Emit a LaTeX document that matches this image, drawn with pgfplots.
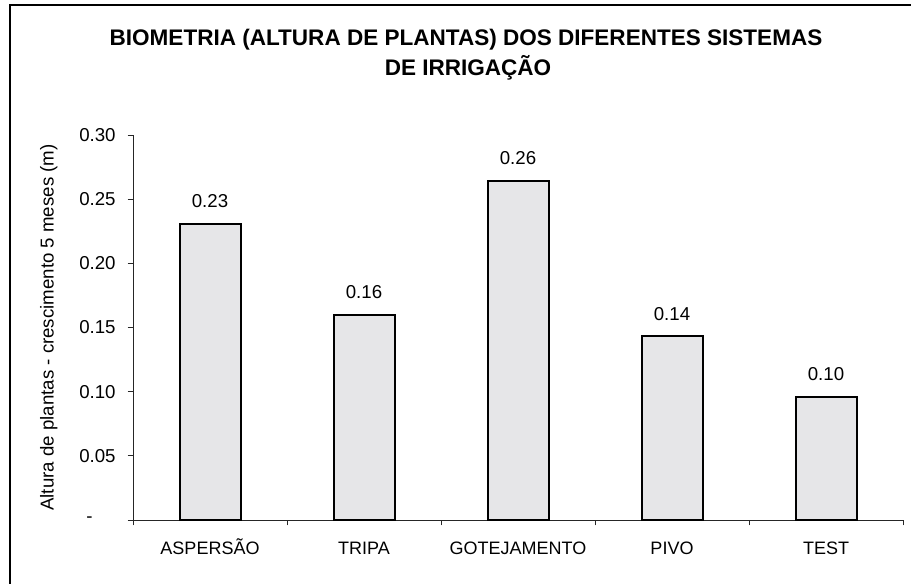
\documentclass[border=0pt]{standalone}
\usepackage{pgfplots}
\pgfplotsset{compat=1.18}
\usepackage{fontspec}
\setmainfont{Liberation Sans}
\definecolor{barfill}{RGB}{230,230,232}
\pgfplotstableread{
x y label
0 0.231 0.23
1 0.160 0.16
2 0.2645 0.26
3 0.143 0.14
4 0.096 0.10
}\datatable
\begin{document}
\begin{tikzpicture}[x=0.75pt,y=0.75pt]
\useasboundingbox (0,0) rectangle (911,584);
\draw[line width=1.5pt] (10,-20) -- (10,579) -- (940,579);
\begin{axis}[
  at={(99.75pt,48pt)}, anchor=south west, scale only axis,
  width=577.5pt, height=288.75pt,
  xmin=-0.5, xmax=4.5, ymin=0, ymax=0.30,
  axis x line=bottom, axis y line=left,
  axis line style={-, line width=0.6pt, black!85},
  tick style={line width=0.6pt, black!85},
  tick align=outside, major tick length=4pt,
  xtick={-0.5,0.5,1.5,2.5,3.5,4.5},
  x tick label as interval,
  xticklabels={ASPERSÃO,TRIPA,GOTEJAMENTO,PIVO,TEST},
  xticklabel style={font=\fontsize{13.5}{16}\selectfont, text height=9.7pt, text depth=0pt, yshift=-9pt},
  ytick={0,0.05,0.10,0.15,0.20,0.25,0.30},
  yticklabels={-\rule{17.25pt}{0pt},0.05,0.10,0.15,0.20,0.25,0.30},
  yticklabel style={font=\fontsize{14}{16}\selectfont, xshift=-5.5pt},
  ylabel={Altura de plantas - crescimento 5 meses (m)},
  ylabel style={at={(axis description cs:-0.103,0.5)}, anchor=base, font=\fontsize{14}{16}\selectfont},
  clip=false,
]
\addplot[ybar, bar width=45.75pt, fill=barfill, draw=black, line width=1.5pt,
  nodes near coords, point meta=explicit symbolic,
  nodes near coords style={text=black, anchor=base, yshift=12pt, font=\fontsize{14}{16}\selectfont}]
  table[x=x, y=y, meta=label] {\datatable};
\end{axis}
\node[anchor=base, font=\bfseries\fontsize{16.9}{20}\selectfont] at (466,538) {BIOMETRIA (ALTURA DE PLANTAS) DOS DIFERENTES SISTEMAS};
\node[anchor=base, font=\bfseries\fontsize{16.9}{20}\selectfont] at (468,508) {DE IRRIGAÇÃO};
\end{tikzpicture}
\end{document}
